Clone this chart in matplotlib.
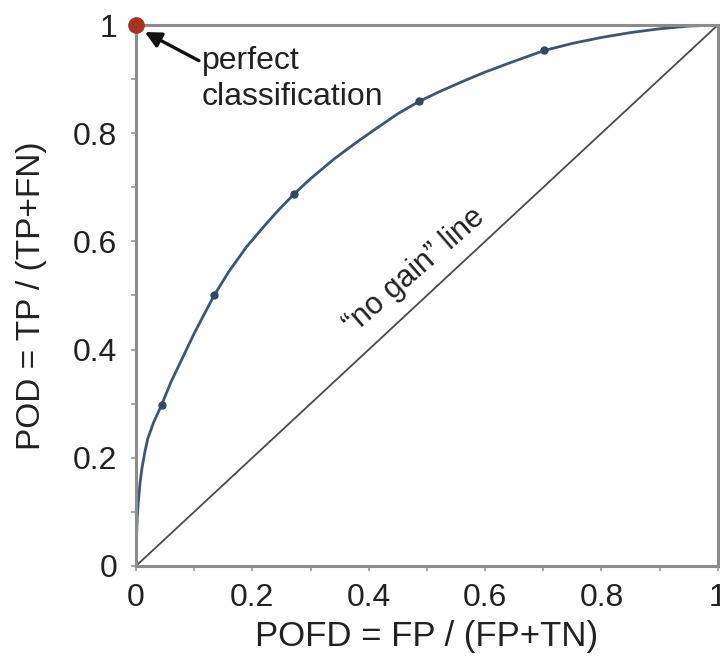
import numpy as np
import matplotlib.pyplot as plt
from matplotlib.ticker import MultipleLocator

plt.rcParams['font.family'] = ['Liberation Sans', 'DejaVu Sans']

# ROC curve
curve_pofd = [0, 0.0005, 0.001, 0.002, 0.004, 0.007, 0.01, 0.015, 0.02, 0.03, 0.044,
              0.06, 0.08, 0.1, 0.134, 0.16, 0.19, 0.22, 0.245, 0.272, 0.30, 0.34,
              0.38, 0.42, 0.45, 0.487, 0.52, 0.56, 0.60, 0.65, 0.702, 0.75, 0.80,
              0.85, 0.90, 0.95, 1.0]
curve_pod = [0, 0.04, 0.06, 0.09, 0.12, 0.155, 0.18, 0.21, 0.235, 0.265, 0.298,
             0.34, 0.385, 0.43, 0.50, 0.545, 0.59, 0.628, 0.658, 0.688, 0.716, 0.752,
             0.784, 0.814, 0.836, 0.859, 0.876, 0.895, 0.913, 0.933, 0.953, 0.966, 0.977,
             0.986, 0.993, 0.998, 1.0]

# threshold points
pt_pofd = [0.044, 0.134, 0.272, 0.487, 0.702]
pt_pod = [0.298, 0.50, 0.688, 0.86, 0.954]

# no gain diagonal
diag = [0, 1]

fig = plt.figure(figsize=(7.2, 6.58), dpi=100)
ax = fig.add_axes([0.189, 0.14, 0.808, 0.822])

ax.plot(diag, diag, color="#4a4a4a", lw=1.3)
ax.plot(curve_pofd, curve_pod, color="#3e5670", lw=2)
ax.plot(pt_pofd, pt_pod, "o", color="#34495e", ms=5)
ax.plot([0], [1], "o", color="#a8321e", ms=11, clip_on=False, zorder=5)

# arrow to the perfect point, then the label
ax.annotate("", xy=(0.015, 0.987), xytext=(0.108, 0.934),
            arrowprops=dict(arrowstyle="-|>", color="#111111", lw=2.4,
                            mutation_scale=24, shrinkA=0, shrinkB=0))
ax.text(0.113, 0.962, "perfect\nclassification", fontsize=23, va="top",
        ha="left", color="#222222", linespacing=1.3)

ax.text(0.479, 0.545, "\u201cno gain\u201d line", rotation=41, fontsize=22,
        ha="center", va="center", color="#222222", rotation_mode="anchor")

ax.set_xlim(0, 1)
ax.set_ylim(0, 1)
ax.xaxis.set_major_locator(MultipleLocator(0.2))
ax.yaxis.set_major_locator(MultipleLocator(0.2))
ax.xaxis.set_minor_locator(MultipleLocator(0.1))
ax.yaxis.set_minor_locator(MultipleLocator(0.1))
ax.xaxis.set_major_formatter(plt.FuncFormatter(lambda v, p: f"{v:g}"))
ax.yaxis.set_major_formatter(plt.FuncFormatter(lambda v, p: f"{v:g}"))
ax.tick_params(which="both", length=3.5, width=1.2, color="#999999",
               labelsize=23, labelcolor="#222222")
ax.tick_params(axis="y", pad=10)
ax.tick_params(axis="x", pad=9)

for s in ax.spines.values():
    s.set_color("#8c8c8c")
    s.set_linewidth(2.2)

ax.set_xlabel("POFD = FP / (FP+TN)", fontsize=25, color="#222222", labelpad=5)
ax.set_ylabel("POD = TP / (TP+FN)", fontsize=24, color="#222222", labelpad=19)

fig.savefig("out.png", dpi=100)
